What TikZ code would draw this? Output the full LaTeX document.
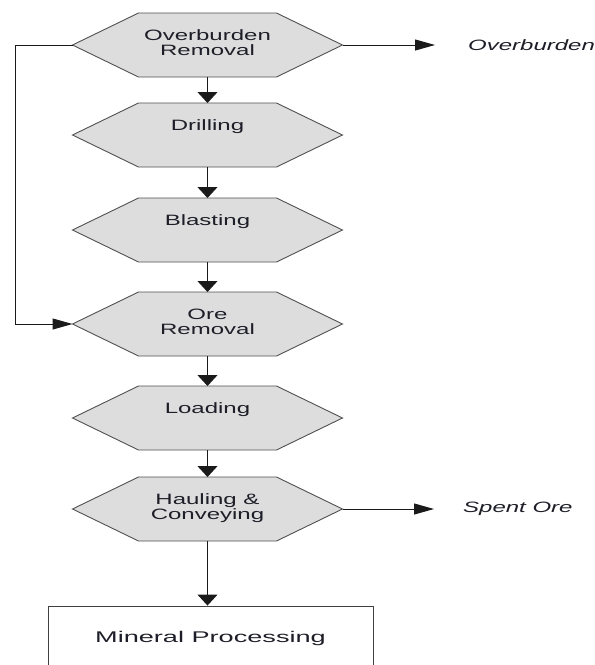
\documentclass[tikz,border=0pt]{standalone}
\usepackage{fontspec}
\usetikzlibrary{arrows.meta,backgrounds}
\newfontfamily\flowfont[FakeStretch=1.6]{Liberation Sans}
\newfontfamily\endfont[FakeStretch=1.75]{Liberation Sans}
\definecolor{hexgray}{HTML}{DDDDDD}
\definecolor{hexedge}{HTML}{505050}
\definecolor{inkdark}{HTML}{1E1E28}
\definecolor{wirecol}{HTML}{1A1A1A}
\tikzset{
  hexnode/.style={minimum width=270pt, minimum height=64pt, inner sep=0pt, outer sep=0pt},
  hexface/.style={fill=hexgray, draw=hexedge, line width=0.9pt, line join=miter},
  steplabel/.style={font=\flowfont\fontsize{15pt}{15pt}\selectfont, align=center,
    anchor=north, inner sep=0pt, text=inkdark},
  sidelabel/.style={font=\flowfont\itshape\fontsize{15pt}{15pt}\selectfont,
    anchor=west, inner sep=0pt, text=inkdark},
  endbox/.style={draw=hexedge!80!black, line width=0.9pt, minimum width=325pt,
    minimum height=64pt, inner sep=0pt,
    font=\endfont\fontsize{15.5pt}{15.5pt}\selectfont, text=inkdark},
  wire/.style={draw=wirecol, line width=1pt},
  downarrow/.style={wire, -{Triangle[length=11pt,width=20pt]}},
  sidearrow/.style={wire, -{Triangle[length=20pt,width=11pt]}},
}
% outline of a flat hexagon inside a named rectangular node
\newcommand\hexoutline[1]{%
  \filldraw[hexface] (#1.west) -- ([xshift=66pt]#1.north west)
    -- ([xshift=-66pt]#1.north east) -- (#1.east)
    -- ([xshift=-66pt]#1.south east) -- ([xshift=66pt]#1.south west) -- cycle;}
\begin{document}
\begin{tikzpicture}[x=1pt, y=-1pt]
  \clip (0,0) rectangle (595,665);

  % process steps
  \node[hexnode] (ob) at (207.5,45)  {};
  \node[hexnode] (dr) at (207.5,135) {};
  \node[hexnode] (bl) at (207.5,230) {};
  \node[hexnode] (or) at (207.5,324) {};
  \node[hexnode] (ld) at (207.5,418) {};
  \node[hexnode] (hc) at (207.5,509) {};

  \begin{scope}[on background layer]
    \foreach \n in {ob,dr,bl,or,ld,hc} {\hexoutline{\n}}
  \end{scope}

  \node[steplabel] (obt) at ([yshift=-16.5pt]ob.north) {Overburden\\Removal};
  \node[steplabel] (drt) at ([yshift=-16.5pt]dr.north) {Drilling};
  \node[steplabel] (blt) at ([yshift=-16.5pt]bl.north) {Blasting};
  \node[steplabel] (ort) at ([yshift=-16.5pt]or.north) {Ore\\Removal};
  \node[steplabel] (ldt) at ([yshift=-16.5pt]ld.north) {Loading};
  \node[steplabel] (hct) at ([yshift=-16.5pt]hc.north) {Hauling \&\\Conveying};

  % final stage
  \node[endbox] (mp) at (210.5,638) {Mineral Processing};

  % side outputs
  \node[sidelabel] (obout) at (468,45)  {Overburden};
  \node[sidelabel] (spout) at (463,509) {Spent Ore};
  \coordinate (obtip) at (435,45);
  \coordinate (sptip) at (434,509);

  % main flow
  \draw[downarrow] (ob.south) -- (dr.north);
  \draw[downarrow] (dr.south) -- (bl.north);
  \draw[downarrow] (bl.south) -- (or.north);
  \draw[downarrow] (or.south) -- (ld.north);
  \draw[downarrow] (ld.south) -- (hc.north);
  \draw[downarrow] (hc.south) -- (hc.south |- mp.north);

  % bypass from overburden removal to ore removal
  \draw[sidearrow] (ob.west) -- ++(-57.5,0) |- (or.west);

  % waste streams
  \draw[sidearrow] (ob.east) -- (obtip);
  \draw[sidearrow] (hc.east) -- (sptip);
\end{tikzpicture}
\end{document}
